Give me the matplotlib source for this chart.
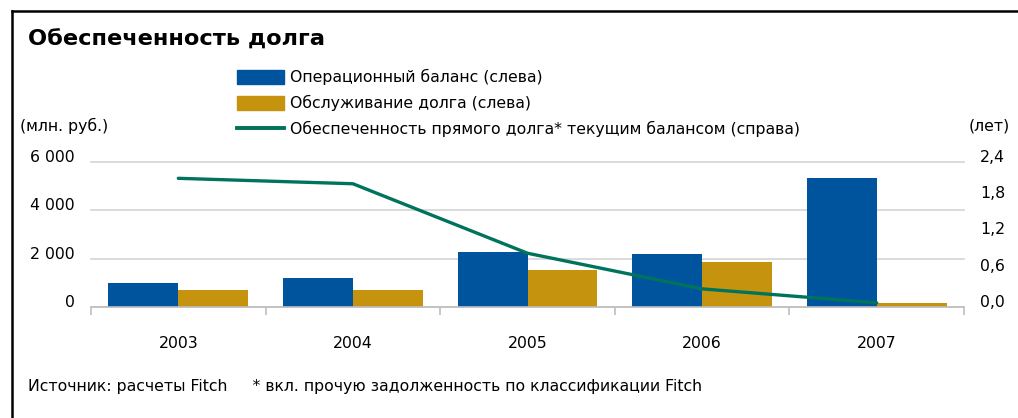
import matplotlib
matplotlib.use("Agg")
import matplotlib.pyplot as plt
import numpy as np
from matplotlib.lines import Line2D
from matplotlib.patches import Patch

years = ['2003', '2004', '2005', '2006', '2007']
operating = [1000, 1210, 2280, 2200, 5340]
debt_service = [700, 700, 1530, 1860, 160]
coverage = [2.13, 2.04, 0.89, 0.30, 0.07]
left_ticks = [0, 2000, 4000, 6000]
left_labels = ['0', '2 000', '4 000', '6 000']
right_ticks = [0.0, 0.6, 1.2, 1.8, 2.4]
right_labels = ['0,0', '0,6', '1,2', '1,8', '2,4']

title = 'Обеспеченность долга'
legend_labels = ['Операционный баланс (слева)',
                 'Обслуживание долга (слева)',
                 'Обеспеченность прямого долга* текущим балансом (справа)']
footer = 'Источник: расчеты Fitch     * вкл. прочую задолженность по классификации Fitch'

BLUE = '#00539D'
GOLD = '#C6930F'
GREEN = '#00735C'
GRID = '#D4D4D4'
FS = 11.3

plt.rcParams['font.family'] = ['DejaVu Sans']
W, H = 1018, 418
fig = plt.figure(figsize=(W / 100, H / 100), dpi=100)

def fx(px):
    return px / W

def fy(py):
    return 1 - py / H

# frame lines (left and top)
fig.add_artist(Line2D([fx(12), fx(12)], [fy(11), 0], color='black', lw=1.8))
fig.add_artist(Line2D([fx(12), 1], [fy(11), fy(11)], color='black', lw=1.8))

ax_l, ax_r, ax_t, ax_b = 91, 964, 162, 307
ax = fig.add_axes([fx(ax_l), fy(ax_b), fx(ax_r - ax_l), (ax_b - ax_t) / H])
x = np.arange(len(years))
bw = 0.4
ax.bar(x - bw / 2, operating, width=bw, color=BLUE, zorder=2)
ax.bar(x + bw / 2, debt_service, width=bw, color=GOLD, zorder=2)
ax.set_xlim(-0.5, len(years) - 0.5)
ax.set_ylim(0, 6000)
ax.set_yticks(left_ticks)
ax.set_yticklabels(left_labels, fontsize=FS, va='baseline')
ax.tick_params(axis='y', length=0, pad=11.5)
ax.yaxis.grid(True, color=GRID, lw=1.2, zorder=0)
for gl in ax.yaxis.get_gridlines():
    gl.set_clip_on(False)
ax.set_axisbelow(True)
for s in ['left', 'right', 'top']:
    ax.spines[s].set_visible(False)
ax.spines['bottom'].set_color('#BFBFBF')
ax.spines['bottom'].set_linewidth(1.2)
ax.spines['bottom'].set_zorder(3)
ax.set_xticks(x)
ax.set_xticklabels(years, fontsize=FS)
ax.tick_params(axis='x', which='major', length=0, pad=21)
ax.set_xticks(np.arange(-0.5, len(years)), minor=True)
ax.tick_params(axis='x', which='minor', length=6, color='#BFBFBF', width=1.2)

ax2 = ax.twinx()
ax2.plot(x, coverage, color=GREEN, lw=2.4, solid_capstyle='round', zorder=4)
ax2.set_ylim(0, 2.4)
ax2.set_yticks(right_ticks)
ax2.set_yticklabels(right_labels, fontsize=FS, va='baseline')
ax2.tick_params(axis='y', length=0, pad=11.5)
for s in ['left', 'right', 'top', 'bottom']:
    ax2.spines[s].set_visible(False)

fig.text(fx(28), fy(40), title, fontsize=16.2, fontweight='bold', va='center', ha='left')
fig.text(fx(20), fy(126), '(млн. руб.)', fontsize=FS, va='center', ha='left')
fig.text(fx(1010), fy(126), '(лет)', fontsize=FS, va='center', ha='right')
fig.text(fx(28), fy(387), footer, fontsize=FS, va='center', ha='left')

handles = [Patch(color=BLUE), Patch(color=GOLD), Line2D([0], [0], color=GREEN, lw=2.8)]
fig.legend(handles, legend_labels, loc='upper left',
           bbox_to_anchor=(fx(237), fy(69)), frameon=False, fontsize=FS,
           borderpad=0, borderaxespad=0, handlelength=3.0, handleheight=1.0,
           handletextpad=0.4, labelspacing=0.62)

fig.savefig('out.png', dpi=100)
